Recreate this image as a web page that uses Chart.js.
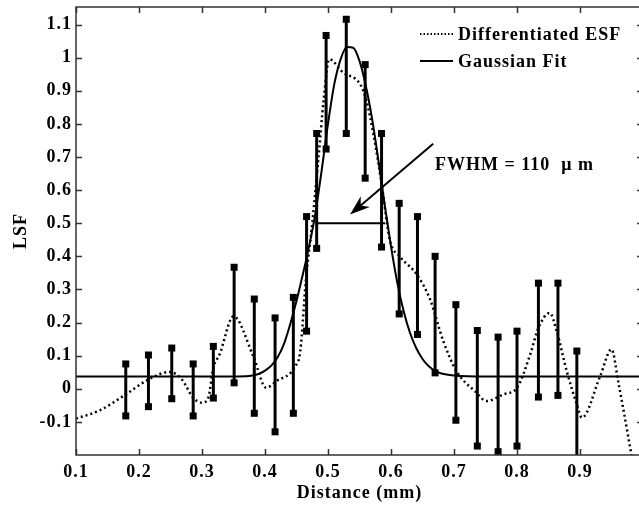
<!DOCTYPE html>
<html>
<head>
<meta charset="utf-8">
<script src="https://cdn.jsdelivr.net/npm/chart.js@4.4.0/dist/chart.umd.min.js"></script>
<style>
    html, body { margin: 0; padding: 0; background: #fff; overflow: hidden; }
    #wrap { position: relative; width: 660px; height: 506px; }
</style>
</head>
<body>
<div id="wrap"><canvas id="lsfChart"></canvas></div>
<script>
// ==================== DATA ====================
// Differentiated ESF (dotted curve)
const esfX = [0.100, 0.138, 0.179, 0.215, 0.249, 0.268, 0.286, 0.300, 0.310, 0.318, 0.328, 0.350, 0.381, 0.402, 0.418,
              0.448, 0.456, 0.465, 0.475, 0.485, 0.493, 0.502, 0.524, 0.551, 0.561, 0.572, 0.585, 0.598, 0.614, 0.641,
              0.662, 0.683, 0.704, 0.733, 0.752, 0.778, 0.800, 0.821, 0.834, 0.852, 0.863, 0.879, 0.895, 0.903, 0.932,
              0.950, 0.961, 0.990];
const esfY = [-0.090, -0.065, -0.017, 0.028, 0.051, 0.028, -0.027, -0.042, -0.027, 0.063, 0.104, 0.219, 0.100, 0.003, 0.023,
              0.068, 0.114, 0.330, 0.500, 0.700, 0.870, 0.995, 0.955, 0.920, 0.870, 0.770, 0.620, 0.450, 0.400, 0.345,
              0.270, 0.144, 0.053, -0.007, -0.037, -0.017, 0.003, 0.104, 0.184, 0.229, 0.174, 0.053, -0.047, -0.087, 0.038,
              0.119, 0.018, -0.290];

// Gaussian fit (solid curve)
const fitX = [0.10, 0.30, 0.37, 0.38, 0.39, 0.40, 0.41, 0.42, 0.43, 0.44, 0.45, 0.46, 0.47, 0.48, 0.49, 0.50, 0.51, 0.52, 0.53,
              0.54, 0.55, 0.56, 0.57, 0.58, 0.59, 0.60, 0.61, 0.62, 0.63, 0.64, 0.65, 0.66, 0.67, 0.68, 0.70, 0.75, 1.00];
const fitY = [0.037, 0.037, 0.038, 0.040, 0.045, 0.055, 0.070, 0.095, 0.135, 0.195, 0.265, 0.345, 0.430, 0.530, 0.660, 0.800,
              0.920, 0.995, 1.032, 1.030, 0.990, 0.915, 0.815, 0.690, 0.555, 0.430, 0.320, 0.235, 0.170, 0.123, 0.090, 0.068,
              0.054, 0.046, 0.040, 0.037, 0.037];

// Measured LSF error bars (upper / lower ends)
const barX     = [0.179, 0.215, 0.252, 0.286, 0.318, 0.351, 0.383, 0.416, 0.445, 0.466, 0.482, 0.497, 0.529,
                  0.559, 0.585, 0.613, 0.642, 0.670, 0.703, 0.737, 0.770, 0.800, 0.834, 0.865, 0.895];
const barUpper = [0.075, 0.102, 0.123, 0.075, 0.128, 0.367, 0.271, 0.214, 0.276, 0.520, 0.771, 1.067, 1.116,
                  0.979, 0.771, 0.560, 0.520, 0.400, 0.254, 0.176, 0.156, 0.174, 0.319, 0.319, 0.114];
const barLower = [-0.082, -0.054, -0.030, -0.082, -0.028, 0.018, -0.074, -0.130, -0.074, 0.174, 0.424, 0.724, 0.771,
                  0.636, 0.428, 0.226, 0.164, 0.048, -0.095, -0.173, -0.190, -0.173, -0.025, -0.020, -0.232];

// Axis ticks
const xTicks = [0.1, 0.2, 0.3, 0.4, 0.5, 0.6, 0.7, 0.8, 0.9];
const yTicks = [-0.1, 0, 0.1, 0.2, 0.3, 0.4, 0.5, 0.6, 0.7, 0.8, 0.9, 1, 1.1];

// FWHM marker (mm)
const fwhmWidth = 0.11;
const fwhmCenter = 0.5355;
const fwhmLevel = 0.5;

const SERIF = "'Liberation Serif', 'Times New Roman', serif";

// ==================== PLUGIN: frame, error bars, labels ====================
const lsfDecor = {
    id: 'lsfDecor',
    beforeDraw(chart) {
        chart.ctx.letterSpacing = '1px';
    },
    afterDatasetsDraw(chart) {
        const { ctx, chartArea: a, scales: { x, y } } = chart;
        ctx.save();
        ctx.beginPath();
        ctx.rect(a.left, a.top, a.right - a.left, a.bottom - a.top);
        ctx.clip();

        // error bars with square caps
        ctx.strokeStyle = '#000';
        ctx.fillStyle = '#000';
        ctx.lineWidth = 3;
        barX.forEach((bx, i) => {
            const px = x.getPixelForValue(bx);
            const top = y.getPixelForValue(barUpper[i]);
            const bot = y.getPixelForValue(barLower[i]);
            ctx.beginPath();
            ctx.moveTo(px, top);
            ctx.lineTo(px, bot);
            ctx.stroke();
            ctx.fillRect(px - 3.5, top - 3.5, 7, 7);
            ctx.fillRect(px - 3.5, bot - 3.5, 7, 7);
        });

        // FWHM bar
        ctx.lineWidth = 2;
        const fy = y.getPixelForValue(fwhmLevel);
        ctx.beginPath();
        ctx.moveTo(x.getPixelForValue(fwhmCenter - fwhmWidth / 2), fy);
        ctx.lineTo(x.getPixelForValue(fwhmCenter + fwhmWidth / 2), fy);
        ctx.stroke();

        // arrow pointing at FWHM bar
        const x0 = x.getPixelForValue(0.667), y0 = y.getPixelForValue(0.74);
        const x1 = x.getPixelForValue(0.535), y1 = y.getPixelForValue(0.526);
        const ang = Math.atan2(y1 - y0, x1 - x0);
        const headLen = 20, headW = 7;
        ctx.beginPath();
        ctx.moveTo(x0, y0);
        ctx.lineTo(x1 - Math.cos(ang) * headLen * 0.6, y1 - Math.sin(ang) * headLen * 0.6);
        ctx.stroke();
        ctx.beginPath();
        ctx.moveTo(x1, y1);
        ctx.lineTo(x1 - Math.cos(ang) * headLen - Math.sin(ang) * headW, y1 - Math.sin(ang) * headLen + Math.cos(ang) * headW);
        ctx.lineTo(x1 - Math.cos(ang) * headLen * 0.7, y1 - Math.sin(ang) * headLen * 0.7);
        ctx.lineTo(x1 - Math.cos(ang) * headLen + Math.sin(ang) * headW, y1 - Math.sin(ang) * headLen - Math.cos(ang) * headW);
        ctx.closePath();
        ctx.fill();
        ctx.restore();
    },
    afterDraw(chart) {
        const { ctx, chartArea: a, scales: { x, y } } = chart;
        ctx.save();
        ctx.letterSpacing = '1px';

        // box and inward ticks
        ctx.strokeStyle = '#333';
        ctx.lineWidth = 1.5;
        ctx.strokeRect(a.left, a.top, a.right - a.left, a.bottom - a.top);
        ctx.beginPath();
        xTicks.forEach(v => {
            const px = Math.round(x.getPixelForValue(v)) + 0.5;
            ctx.moveTo(px, a.bottom); ctx.lineTo(px, a.bottom - 6);
            ctx.moveTo(px, a.top); ctx.lineTo(px, a.top + 6);
        });
        yTicks.forEach(v => {
            const py = Math.round(y.getPixelForValue(v)) + 0.5;
            ctx.moveTo(a.left, py); ctx.lineTo(a.left + 6, py);
            ctx.moveTo(a.right, py); ctx.lineTo(a.right - 6, py);
        });
        ctx.stroke();

        // legend
        ctx.fillStyle = '#000';
        ctx.strokeStyle = '#000';
        ctx.font = 'bold 18px ' + SERIF;
        ctx.textBaseline = 'middle';
        ctx.textAlign = 'left';
        const lx = 420, ly1 = 34, ly2 = 61;
        ctx.lineWidth = 2;
        ctx.setLineDash([1.5, 2]);
        ctx.beginPath(); ctx.moveTo(lx, ly1); ctx.lineTo(lx + 33, ly1); ctx.stroke();
        ctx.setLineDash([]);
        ctx.beginPath(); ctx.moveTo(lx, ly2); ctx.lineTo(lx + 33, ly2); ctx.stroke();
        ctx.fillText('Differentiated ESF', lx + 38, ly1 + 1);
        ctx.fillText('Gaussian Fit', lx + 38, ly2 + 1);

        // FWHM annotation
        ctx.fillText('FWHM = 110  \u03bc m', x.getPixelForValue(0.67), y.getPixelForValue(0.675));
        ctx.restore();
    }
};

// ==================== CHART ====================
const toPoints = (xs, ys) => xs.map((v, i) => ({ x: v, y: ys[i] }));

new Chart(document.getElementById('lsfChart'), {
    type: 'scatter',
    data: {
        datasets: [
            {
                label: 'Differentiated ESF',
                data: toPoints(esfX, esfY),
                showLine: true,
                borderColor: '#000',
                borderWidth: 2.5,
                borderDash: [2, 3],
                pointRadius: 0,
                cubicInterpolationMode: 'monotone',
                clip: 0
            },
            {
                label: 'Gaussian Fit',
                data: toPoints(fitX, fitY),
                showLine: true,
                borderColor: '#000',
                borderWidth: 2,
                pointRadius: 0,
                cubicInterpolationMode: 'monotone',
                clip: 0
            }
        ]
    },
    options: {
        responsive: true,
        maintainAspectRatio: false,
        animation: false,
        layout: { padding: { left: 0, right: 17, top: 7, bottom: 0 } },
        plugins: {
            legend: { display: false },
            tooltip: { enabled: false }
        },
        scales: {
            x: {
                type: 'linear',
                min: 0.1,
                max: 1.0,
                afterBuildTicks(scale) { scale.ticks = xTicks.map(v => ({ value: v })); },
                afterFit(scale) {
                    scale.height = 51;
                    scale.paddingLeft = 0;
                    scale.paddingRight = 0;
                },
                grid: { display: false, drawTicks: false },
                border: { display: false },
                ticks: {
                    padding: 7,
                    color: '#000',
                    font: { family: SERIF, size: 18, weight: 'bold' },
                    callback: v => String(Math.round(v * 10) / 10)
                },
                title: {
                    display: true,
                    text: 'Distance (mm)',
                    color: '#000',
                    font: { family: SERIF, size: 18, weight: 'bold' },
                    padding: { top: 0, bottom: 2 }
                }
            },
            y: {
                min: -0.2,
                max: 1.153,
                afterBuildTicks(scale) { scale.ticks = yTicks.map(v => ({ value: v })); },
                afterFit(scale) {
                    scale.width = 76;
                    scale.paddingTop = 0;
                    scale.paddingBottom = 0;
                },
                grid: { display: false, drawTicks: false },
                border: { display: false },
                ticks: {
                    padding: 4,
                    color: '#000',
                    font: { family: SERIF, size: 18, weight: 'bold' },
                    callback: v => String(Math.round(v * 10) / 10)
                },
                title: {
                    display: true,
                    text: 'LSF',
                    color: '#000',
                    font: { family: SERIF, size: 18, weight: 'bold' },
                    padding: { top: 11, bottom: 0 }
                }
            }
        }
    },
    plugins: [lsfDecor]
});
</script>
</body>
</html>
